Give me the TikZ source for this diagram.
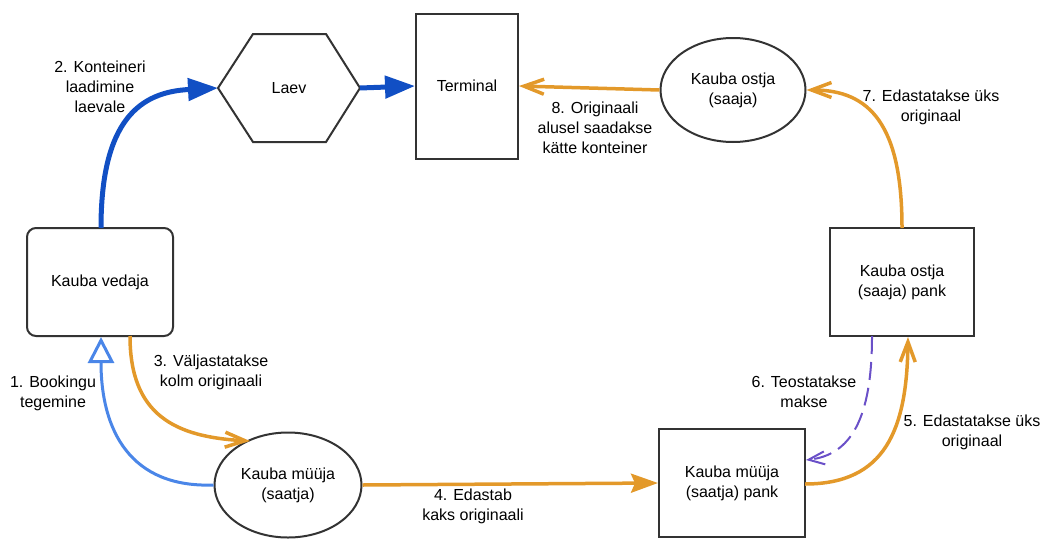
\documentclass[tikz,border=0pt]{standalone}
\usepackage{fontspec}
\setmainfont{Liberation Sans}
\usetikzlibrary{shapes.geometric,arrows.meta}
\definecolor{borderc}{HTML}{333333}
\definecolor{orangec}{HTML}{E3992A}
\definecolor{dblue}{HTML}{114FC4}
\definecolor{lblue}{HTML}{4A86E8}
\definecolor{purplec}{HTML}{6A50C8}
\tikzset{
  shapeline/.style={draw=borderc, line width=2pt},
  boxnode/.style={shapeline, rectangle, inner sep=0pt, align=center, font=\fontsize{16}{20}\selectfont},
  ellnode/.style={shapeline, ellipse, inner sep=0pt, align=center, font=\fontsize{16}{20}\selectfont},
  txt/.style={align=center, inner sep=0pt, font=\fontsize{16}{20}\selectfont},
  orangearrow/.style={draw=orangec, line width=3.5pt, -{Straight Barb[length=20pt,width=15pt]}},
  orangefilled/.style={draw=orangec, line width=3.5pt, -{Stealth[length=27pt,width=19pt,inset=4pt]}},
  bluearrow/.style={draw=dblue, line width=5pt, -{Triangle[length=30pt,width=22pt]}},
  lbluearrow/.style={draw=lblue, line width=3pt, -{Triangle[open,length=26pt,width=26pt,fill=white]}},
  purplearrow/.style={draw=purplec, line width=2pt, dash pattern=on 18pt off 8pt, -{Straight Barb[length=16pt,width=13pt]}},
}
\begin{document}
\begin{tikzpicture}[x=1pt,y=-1pt]
\useasboundingbox (0,0) rectangle (1048,538);
% shapes
\node[boxnode, rounded corners=9pt, minimum width=146pt, minimum height=108pt] (vedaja) at (100,282) {Kauba vedaja};
\draw[shapeline] (218,88) -- (253,34) -- (326,34) -- (360,88) -- (326,142) -- (253,142) -- cycle;
\coordinate (hexL) at (218,88);
\coordinate (hexR) at (360,88);
\node[txt] (laev) at (289,88) {Laev};
\node[boxnode, minimum width=102pt, minimum height=145pt] (terminal) at (467,86) {Terminal};
\node[ellnode, minimum width=145pt, minimum height=104pt] (ostja) at (733,90) {Kauba ostja\\(saaja)};
\node[boxnode, minimum width=144pt, minimum height=108pt] (ostjapank) at (902,282) {Kauba ostja\\(saaja) pank};
\node[ellnode, minimum width=147pt, minimum height=105pt] (myyja) at (288,485) {Kauba müüja\\(saatja)};
\node[boxnode, minimum width=146pt, minimum height=108pt] (myyjapank) at (732,483) {Kauba müüja\\(saatja) pank};
% connectors
\coordinate (vedTop) at (101,228);
\coordinate (vedBotL) at (101,337);
\coordinate (vedBotR) at (130,336);
\coordinate (myyTop) at (250,441);
\coordinate (opBotL) at (872,336);
\coordinate (opBotR) at (908,337);
\coordinate (opTop) at (902,228);
\coordinate (mpR1) at (806,460);
\coordinate (mpR2) at (805,484);
\draw[bluearrow] (vedTop) .. controls (101,120) and (140,92) .. (hexL);
\draw[bluearrow] (hexR) -- (terminal.west);
\draw[lbluearrow] (myyja.west) .. controls (130,488) and (101,430) .. (vedBotL);
\draw[orangearrow] (vedBotR) .. controls (130,415) and (175,437) .. (myyTop);
\draw[orangefilled] (myyja.east) -- (myyjapank.west);
\draw[orangearrow] (mpR2) .. controls (885,484) and (907,430) .. (opBotR);
\draw[purplearrow] (opBotL) .. controls (872,420) and (850,455) .. (mpR1);
\draw[orangearrow] (opTop) .. controls (902,125) and (870,90) .. (ostja.east);
\draw[orangearrow] (ostja.west) -- (terminal.east);
% labels
\node[txt] (l1) at (53,393) {1. Bookingu\\tegemine};
\node[txt] (l2) at (100,87) {2. Konteineri\\laadimine\\laevale};
\node[txt] (l3) at (211,372) {3. Väljastatakse\\kolm originaali};
\node[txt] (l4) at (473,506) {4. Edastab\\kaks originaali};
\node[txt] (l5) at (972,432) {5. Edastatakse üks\\originaal};
\node[txt] (l6) at (804,392) {6. Teostatakse\\makse};
\node[txt] (l7) at (931,107) {7. Edastatakse üks\\originaal};
\node[txt] (l8) at (595,128) {8. Originaali\\alusel saadakse\\kätte konteiner};
\end{tikzpicture}
\end{document}
